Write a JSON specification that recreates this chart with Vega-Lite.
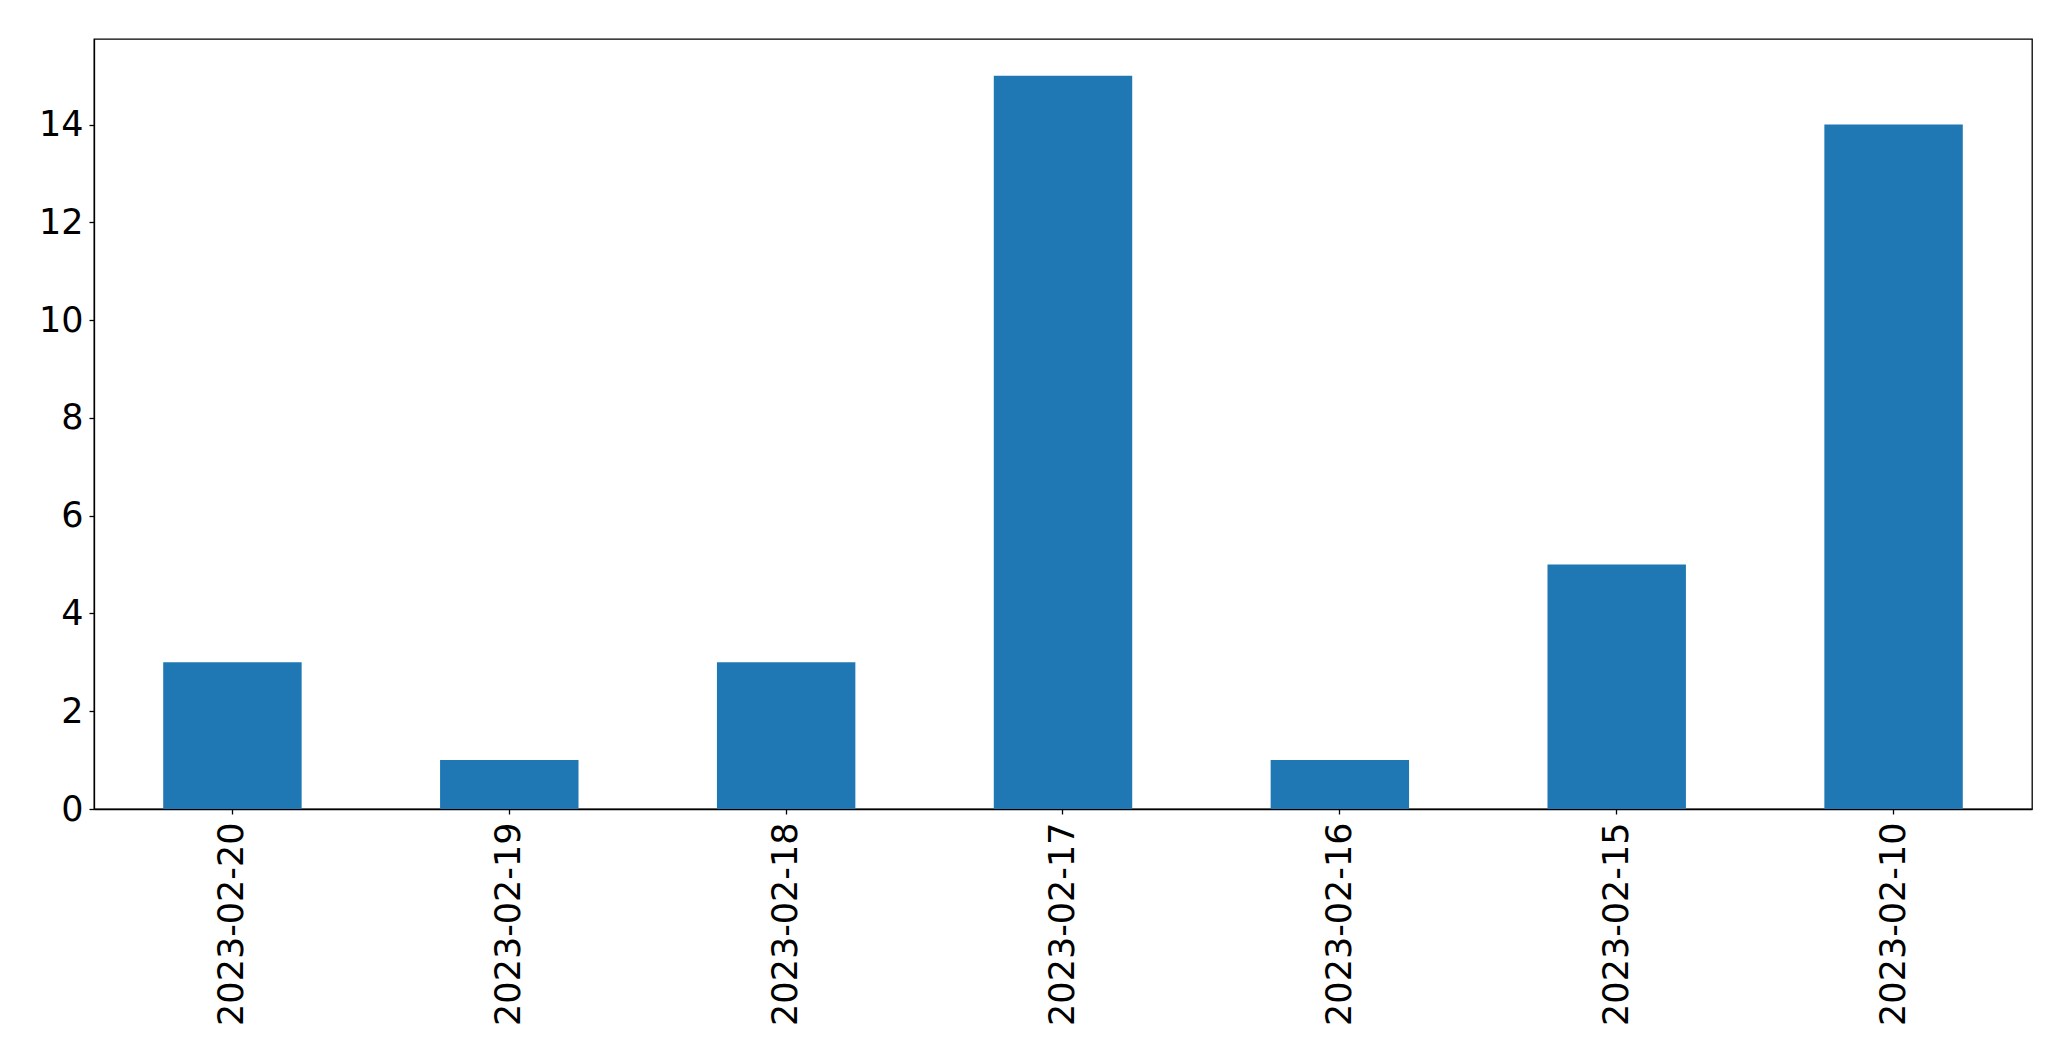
{
  "$schema": "https://vega.github.io/schema/vega-lite/v6.json",
  "width": 1938,
  "height": 770,
  "autosize": {"type": "none"},
  "padding": {"left": 94, "top": 39, "right": 39, "bottom": 252},
  "background": "white",
  "config": {
    "view": {"stroke": "black", "strokeWidth": 1.3},
    "font": "DejaVu Sans"
  },
  "data": {
    "values": [
      {"date": "2023-02-20", "count": 3},
      {"date": "2023-02-19", "count": 1},
      {"date": "2023-02-18", "count": 3},
      {"date": "2023-02-17", "count": 15},
      {"date": "2023-02-16", "count": 1},
      {"date": "2023-02-15", "count": 5},
      {"date": "2023-02-10", "count": 14}
    ]
  },
  "mark": {"type": "bar", "color": "#1f77b4"},
  "encoding": {
    "x": {
      "field": "date",
      "type": "nominal",
      "sort": null,
      "scale": {"paddingInner": 0.5, "paddingOuter": 0.25},
      "axis": {
        "title": null,
        "labelAngle": -90,
        "labelAlign": "right",
        "labelBaseline": "middle",
        "labelFont": "DejaVu Sans",
        "labelFontSize": 35,
        "labelLimit": 0,
        "labelColor": "black",
        "labelPadding": 8,
        "tickColor": "black",
        "tickSize": 5,
        "tickWidth": 1.3,
        "domainColor": "black",
        "domainWidth": 1.3
      }
    },
    "y": {
      "field": "count",
      "type": "quantitative",
      "scale": {"domain": [0, 15.75], "nice": false},
      "axis": {
        "title": null,
        "values": [0, 2, 4, 6, 8, 10, 12, 14],
        "grid": false,
        "labelFont": "DejaVu Sans",
        "labelFontSize": 35,
        "labelLimit": 0,
        "labelColor": "black",
        "labelPadding": 6,
        "tickColor": "black",
        "tickSize": 5,
        "tickWidth": 1.3,
        "domainColor": "black",
        "domainWidth": 1.3
      }
    }
  }
}
